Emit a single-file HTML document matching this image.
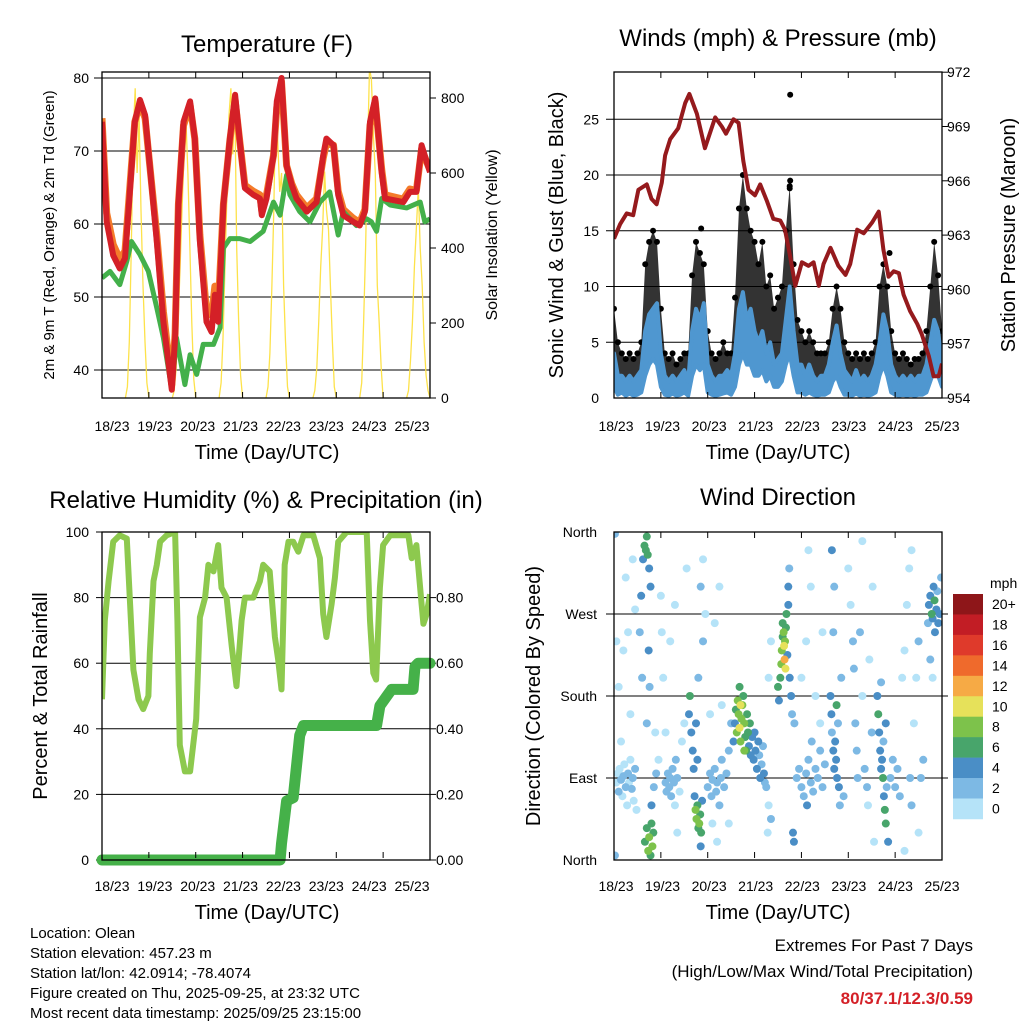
<!DOCTYPE html>
<html><head><meta charset="utf-8"><style>
html,body{margin:0;padding:0;background:#fff;}
svg{display:block;font-family:"Liberation Sans",sans-serif;}
</style></head><body>
<svg id="chart" width="1024" height="1024" viewBox="0 0 1024 1024">
<defs>
<clipPath id="c1"><rect x="102" y="72" width="328" height="326"/></clipPath>
<clipPath id="c2"><rect x="614" y="72" width="328" height="326"/></clipPath>
<clipPath id="c3"><rect x="102" y="532" width="328" height="328"/></clipPath>
<clipPath id="c4"><rect x="614" y="532" width="328" height="328"/></clipPath>
</defs>
<g font-size="24" text-anchor="middle">
<text x="267" y="52">Temperature (F)</text>
<text x="778" y="46">Winds (mph) &amp; Pressure (mb)</text>
<text x="266" y="508">Relative Humidity (%) &amp; Precipitation (in)</text>
<text x="778" y="505">Wind Direction</text>
</g>
<g font-size="20" text-anchor="middle">
<text x="267" y="459">Time (Day/UTC)</text>
<text x="778" y="459">Time (Day/UTC)</text>
<text x="267" y="919">Time (Day/UTC)</text>
<text x="778" y="919">Time (Day/UTC)</text>
<text transform="translate(54,235) rotate(-90)" font-size="15">2m &amp; 9m T (Red, Orange) &amp; 2m Td (Green)</text>
<text transform="translate(497,235) rotate(-90)" font-size="16">Solar Insolation (Yellow)</text>
<text transform="translate(563,235) rotate(-90)">Sonic Wind &amp; Gust (Blue, Black)</text>
<text transform="translate(1015,235) rotate(-90)">Station Pressure (Maroon)</text>
<text transform="translate(47,696) rotate(-90)">Percent &amp; Total Rainfall</text>
<text transform="translate(540,696) rotate(-90)">Direction (Colored By Speed)</text>
</g>
<g font-size="15">
<text x="30" y="938">Location: Olean</text>
<text x="30" y="958">Station elevation: 457.23 m</text>
<text x="30" y="978">Station lat/lon: 42.0914; -78.4074</text>
<text x="30" y="998">Figure created on Thu, 2025-09-25, at 23:32 UTC</text>
<text x="30" y="1018">Most recent data timestamp: 2025/09/25 23:15:00</text>
</g>
<g font-size="17" text-anchor="end">
<text x="973" y="951">Extremes For Past 7 Days</text>
<text x="973" y="977">(High/Low/Max Wind/Total Precipitation)</text>
<text x="973" y="1004" fill="#d42027" font-weight="bold">80/37.1/12.3/0.59</text>
</g>
<g id="plots"></g>
</svg>
<script>
const dayLabels=["18/23","19/23","20/23","21/23","22/23","23/23","24/23","25/23"];
const tempTicks=[40,50,60,70,80];
const solarTicks=[0,200,400,600,800];
const windTicks=[0,5,10,15,20,25];
const pressTicks=[954,957,960,963,966,969,972];
const rhTicks=[0,20,40,60,80,100];
const rainTicks=[0,0.2,0.4,0.6,0.8];
const dirTicks=[0,90,180,270,360];
const dirLabels=["North","East","South","West","North"];
const speedBins=["0","2","4","6","8","10","12","14","16","18","20+"];
const speedColors=["#b5e3f8","#7db9e4","#4a8ec6","#48a56b","#7dc24b","#e6e15a","#f6aa45","#ef6a2c","#df3a2b","#c21d25","#8e1619"];

const tempRed=[[0,74],[.1,60.3],[.24,55.7],[.38,53.9],[.49,55.3],[.6,64.9],[.7,74],[.81,77],[.92,74.9],[1.02,68],[1.17,57.6],[1.31,46.6],[1.49,37.3],[1.56,44.4],[1.63,62.7],[1.74,74],[1.88,76.8],[1.98,71.7],[2.09,57.6],[2.23,46.6],[2.34,45.2],[2.41,50.3],[2.48,46.6],[2.59,62.7],[2.73,71.7],[2.84,77.7],[2.94,71.3],[3.05,64.9],[3.23,64],[3.37,63.5],[3.41,61.2],[3.51,63.5],[3.66,69.4],[3.73,76.8],[3.83,80],[3.94,68],[4.05,65.3],[4.15,63.5],[4.37,61.7],[4.58,63],[4.72,69.4],[4.79,71.7],[4.94,70.8],[5.04,64],[5.15,61.2],[5.36,60.3],[5.5,59.8],[5.61,61.7],[5.72,74],[5.83,77.2],[5.97,67.1],[6.04,63.5],[6.43,63],[6.57,64.4],[6.71,64.4],[6.82,70.8],[6.93,68.5],[7,67.1]];
const tempOrange=[[0,74.5],[.1,61.5],[.24,57.2],[.38,55.2],[.49,56.3],[.6,65.5],[.7,74],[.81,76.5],[.92,74.5],[1.02,68],[1.17,58.5],[1.31,48],[1.49,38],[1.56,45],[1.63,62.7],[1.74,73.5],[1.88,76.3],[1.98,71.7],[2.09,58.5],[2.23,48],[2.34,47.5],[2.41,51.5],[2.48,48.5],[2.59,62.7],[2.73,71.5],[2.84,77],[2.94,71.3],[3.05,65.3],[3.23,64.5],[3.37,64],[3.41,61.8],[3.51,64],[3.66,69.4],[3.73,76],[3.83,79.5],[3.94,68],[4.05,65.5],[4.15,64],[4.37,62.2],[4.58,63.5],[4.72,69],[4.79,71],[4.94,70.8],[5.04,64.5],[5.15,62],[5.36,60.8],[5.5,60.2],[5.61,62],[5.72,73.5],[5.83,76.8],[5.97,67.5],[6.04,64],[6.43,63.4],[6.57,64.8],[6.71,64.6],[6.82,70.3],[6.93,68.5],[7,67.4]];
const tempDew=[[0,52.6],[.17,53.5],[.38,51.7],[.53,54.9],[.63,57.6],[.81,55.8],[.99,53.5],[1.17,48.5],[1.31,44.4],[1.49,37.3],[1.59,44.4],[1.77,38],[1.88,42.1],[2.02,39.4],[2.16,43.5],[2.38,43.5],[2.52,45.8],[2.59,56.7],[2.73,58],[2.94,58],[3.16,57.6],[3.44,59],[3.66,63],[3.8,61.2],[3.94,66.7],[4.01,64],[4.22,61.7],[4.44,60.3],[4.65,63],[4.86,64.4],[5.04,58.5],[5.15,61.7],[5.43,59.8],[5.65,60.7],[5.75,60.3],[5.86,59],[5.97,63.5],[6.15,62.6],[6.5,62.2],[6.79,63],[6.89,60.3],[7,60.7]];
const solarDay0=[0,30,150,400,700,826,600,750,500,300,150,40,0];
const solarDay1=[0,20,80,200,350,500,650,737,600,400,200,50,0];
const solarDay2=[0,40,160,350,550,750,826,650,800,400,200,60,0];
const solarDay3=[0,30,120,300,500,800,690,550,600,300,150,30,0];
const solarDay4=[0,20,80,200,350,450,604,500,450,300,150,30,0];
const solarDay5=[0,40,200,400,650,880,850,700,600,300,200,80,0];
const solarDay6=[0,20,100,200,350,450,560,400,300,150,60,20,0];

const windAvg=[4,2,2,1.5,2,1.5,2,2.5,6,7.5,8,8.5, 4,2,1.5,2,1.5,2,2.5,1.5,6,8,7,8.5, 3,2,1.5,2,2,2.5,2,4,8,9.5,7,8, 6,5,6,4,5,3,3.5,4,7,10,6,3, 3,2,3,2,1.5,2,2,3,5,6.5,4,2.5, 2,1.5,2.5,1.5,2,1.5,2,3,5,7.5,6,3, 2,1.5,2,1.5,2,1.5,2,2,3,5,7,6,3];
const windLow=[1,0.3,0.5,0.2,0.4,0.2,0.3,0.5,2,3,3.5,3, 1,0.3,0.2,0.4,0.2,0.3,0.5,0.2,2,3,2.5,3, 0.5,0.3,0.2,0.3,0.4,0.5,0.3,1,3,4,3,3, 2,2,2.5,1.5,2,1,1,1.5,3,4,2,0.5, 0.5,0.3,0.5,0.3,0.2,0.3,0.3,0.5,1.5,2,1,0.3, 0.3,0.2,0.4,0.2,0.3,0.2,0.3,0.5,2,3,2,0.5, 0.3,0.2,0.3,0.2,0.3,0.2,0.3,0.3,0.5,1.5,2.5,2,1];
const windGust=[8,5,4,3.5,4,3.5,4,5,12,14,15,14, 8,4,3.5,4,3,3.5,4,4,11,14,13,12, 6,4,3.5,4,5,4,4,9,17,20,17,15, 14,12,14,10,11,8,9,10,15,19,12,7, 6,5,6,5,4,4,4,5,8,10,8,5, 4,3.5,4,3.5,4,3.5,4,5,10,12,10,6, 4,3.5,4,3.5,3,3.5,3.5,4,6,10,14,11,6];
const gustOutliers=[[3.76,27.2],[3.76,19.5],[3.75,18.8],[1.86,15.2],[5.88,13]];
const pressure=[[0,962.8],[.13,963.6],[.27,964.2],[.41,964.1],[.52,965.5],[.7,965.8],[.8,965],[.91,964.7],[1.02,965.9],[1.09,967.4],[1.2,968.3],[1.37,968.9],[1.52,970.3],[1.61,970.8],[1.77,969.7],[1.94,967.8],[2.16,969.5],[2.3,969],[2.39,968.6],[2.55,969.4],[2.66,969.2],[2.76,967.1],[2.87,965.5],[3.01,965.2],[3.12,965.8],[3.26,964.9],[3.4,963.9],[3.55,963.8],[3.65,963.3],[3.76,961.8],[3.87,960.2],[4.01,961.5],[4.15,961.3],[4.26,961.5],[4.37,960.2],[4.47,961.4],[4.62,962.3],[4.79,961.3],[4.94,960.8],[5.04,961.4],[5.19,963.3],[5.33,963.1],[5.51,963.7],[5.65,964.3],[5.75,962.2],[5.86,960.7],[5.97,961],[6.08,960.9],[6.18,959.7],[6.32,958.8],[6.47,958.1],[6.57,957.5],[6.72,956.3],[6.82,955.2],[6.93,955.2],[7,955.9]];

const rh=[[0,49],[.06,73],[.14,85],[.24,97],[.38,99],[.53,98],[.6,78],[.67,58],[.78,49],[.88,46],[.99,50],[1.02,63],[1.1,85],[1.17,90],[1.24,97],[1.38,99],[1.56,100],[1.61,73],[1.66,35],[1.77,27],[1.88,27],[2.01,43],[2.09,74],[2.2,80],[2.27,90],[2.38,88],[2.48,96],[2.55,83],[2.66,80],[2.77,65],[2.87,53],[2.98,73],[3.05,80],[3.23,80],[3.37,85],[3.44,90],[3.58,88],[3.69,68],[3.76,61],[3.83,52],[3.9,90],[3.98,97],[4.08,97],[4.19,94],[4.3,99],[4.51,99],[4.65,92],[4.72,75],[4.79,68],[4.9,78],[4.97,86],[5.04,97],[5.22,100],[5.65,100],[5.72,73],[5.79,57],[5.85,55],[5.93,83],[6,96],[6.15,99],[6.54,99],[6.61,92],[6.71,96],[6.82,78],[6.86,72],[6.93,75],[7,81]];
const rain=[[0,0],[3.8,0],[3.83,0.05],[3.94,0.18],[4.08,0.19],[4.22,0.38],[4.3,0.41],[5.86,0.41],[5.93,0.47],[6.18,0.52],[6.64,0.52],[6.68,0.59],[6.75,0.6],[7,0.6]];

const dirPoints=[[0.02,5,3],[0.02,358,3],[0.05,85,1],[0.08,95,1],[0.1,75,2],[0.12,100,1],[0.15,88,2],[0.18,70,1],[0.2,92,2],[0.22,105,1],[0.25,80,2],[0.28,60,1],[0.3,95,2],[0.32,85,1],[0.35,110,1],[0.38,78,2],[0.4,90,3],[0.42,65,1],[0.45,100,2],[0.48,55,1],[0.1,190,1],[0.2,230,1],[0.25,310,1],[0.3,250,1],[0.05,240,1],[0.35,160,1],[0.4,330,1],[0.15,130,1],[0.45,275,1],
[0.55,250,3],[0.58,290,4],[0.6,200,2],[0.62,330,5],[0.65,345,7],[0.68,340,6],[0.7,355,7],[0.72,335,6],[0.75,320,5],[0.78,300,4],[0.66,20,7],[0.7,35,6],[0.73,10,8],[0.75,25,8],[0.78,5,7],[0.8,40,6],[0.82,15,8],[0.84,30,6],[0.8,60,4],[0.85,80,3],[0.76,190,3],[0.7,150,2],[0.74,230,4],[0.88,140,1],[0.9,95,2],[0.95,110,1],
[1.0,290,1],[1.02,250,1],[1.05,200,1],[1.1,85,2],[1.12,75,2],[1.15,95,3],[1.18,80,2],[1.2,90,3],[1.22,70,2],[1.25,100,2],[1.28,85,3],[1.3,60,1],[1.32,110,2],[1.35,90,2],[1.4,75,1],[1.45,130,1],[1.1,140,1],[1.2,240,1],[1.3,280,1],[1.35,30,1],[1.5,150,1],[1.55,320,1],
[1.6,160,4],[1.62,180,6],[1.65,140,4],[1.68,120,5],[1.7,100,4],[1.72,70,5],[1.74,55,8],[1.76,45,8],[1.78,60,7],[1.8,35,6],[1.82,40,8],[1.84,50,7],[1.86,30,6],[1.85,15,4],[1.88,65,5],[1.75,150,5],[1.78,110,5],[1.8,200,3],[1.85,300,3],[1.9,330,1],[1.9,240,3],[1.95,270,1],
[2.0,80,2],[2.05,95,3],[2.08,70,2],[2.1,88,3],[2.15,100,2],[2.18,75,3],[2.2,85,2],[2.25,60,2],[2.28,90,3],[2.3,110,2],[2.35,80,2],[2.4,95,3],[2.45,120,3],[2.5,150,3],[2.1,40,1],[2.2,20,1],[2.3,170,1],[2.15,260,1],[2.25,300,1],[2.05,160,1],[2.45,40,1],
[2.55,130,4],[2.58,150,5],[2.6,165,6],[2.62,140,8],[2.64,175,9],[2.66,160,8],[2.68,145,10],[2.7,130,8],[2.72,155,9],[2.74,170,8],[2.76,180,6],[2.78,150,8],[2.8,135,6],[2.82,120,7],[2.84,160,7],[2.86,140,6],[2.88,125,5],[2.9,150,7],[2.92,115,4],[2.95,135,5],[2.98,110,4],[2.68,190,7],[2.7,170,10],[2.78,120,9],
[3.0,140,4],[3.02,120,5],[3.05,100,4],[3.08,130,4],[3.1,115,3],[3.12,90,4],[3.15,105,3],[3.18,125,3],[3.2,95,4],[3.22,85,3],[3.25,80,2],[3.3,60,1],[3.35,45,2],[3.3,200,1],[3.35,240,1],[3.28,30,1],
[3.5,190,6],[3.52,175,5],[3.55,200,7],[3.57,215,8],[3.58,230,8],[3.6,245,7],[3.6,260,6],[3.62,250,8],[3.63,235,10],[3.64,220,12],[3.65,240,9],[3.66,210,10],[3.67,255,7],[3.68,270,6],[3.7,225,5],[3.72,280,4],[3.72,300,4],[3.74,320,3],[3.75,200,4],[3.78,180,4],[3.8,160,2],[3.82,30,4],[3.84,20,4],[3.85,150,3],
[3.9,90,3],[3.95,100,2],[4.0,80,3],[4.05,70,2],[4.1,95,3],[4.12,60,4],[4.15,110,2],[4.2,85,3],[4.22,130,2],[4.25,75,3],[4.3,100,2],[4.35,90,3],[4.4,120,2],[4.45,80,2],[4.5,105,2],[4.0,200,1],[4.1,240,1],[4.15,340,1],[4.2,300,1],[4.3,180,1],[4.4,150,1],[4.45,250,1],
[4.62,180,4],[4.64,160,4],[4.65,140,3],[4.68,120,5],[4.7,100,4],[4.72,130,4],[4.74,110,5],[4.76,90,4],[4.78,150,3],[4.8,80,4],[4.75,170,6],[4.82,60,3],[4.85,200,2],[4.7,300,2],[4.65,340,4],[4.68,250,3],[4.9,70,3],
[5.0,320,1],[5.05,280,1],[5.1,240,3],[5.12,210,2],[5.15,150,2],[5.18,120,3],[5.2,90,2],[5.25,250,2],[5.3,180,1],[5.35,100,3],[5.4,80,2],[5.42,60,1],[5.45,220,1],[5.5,140,2],[5.52,300,1],[5.55,20,1],[5.3,350,1],
[5.62,180,5],[5.64,160,6],[5.66,140,4],[5.68,120,4],[5.7,100,5],[5.72,110,4],[5.74,90,6],[5.76,70,5],[5.78,55,6],[5.8,40,6],[5.75,130,3],[5.8,150,4],[5.82,80,3],[5.85,20,4],[5.7,195,2],[5.9,90,3],[5.95,110,2],
[6.0,80,2],[6.05,100,3],[6.1,70,2],[6.15,200,1],[6.2,230,1],[6.25,280,1],[6.3,320,1],[6.32,90,2],[6.35,60,3],[6.4,150,1],[6.45,200,1],[6.5,240,2],[6.55,90,3],[6.6,110,3],[6.5,30,1],[6.35,340,1],[6.2,10,1],
[6.7,260,3],[6.72,280,4],[6.75,290,5],[6.78,270,6],[6.8,265,5],[6.82,300,4],[6.84,285,6],[6.85,250,4],[6.88,275,5],[6.9,295,3],[6.92,260,4],[6.95,270,5],[6.98,310,3],[6.75,220,2],[6.8,200,1]];

const NS="http://www.w3.org/2000/svg";
const root=document.getElementById("plots");
function mk(tag,attrs,parent){const e=document.createElementNS(NS,tag);for(const k in attrs)e.setAttribute(k,attrs[k]);(parent||root).appendChild(e);return e;}
function txt(s,x,y,anchor,size,parent){const e=mk("text",{x:x,y:y,"text-anchor":anchor,"font-size":size},parent);e.textContent=s;return e;}
const X1=t=>102+t*46.857, X2=t=>614+t*46.857;
const YT=v=>370-(v-40)*7.3, YS=s=>398-s*0.375;
const YW=w=>398-w*11.15, YP=p=>398-(p-954)*18.1;
const YR=r=>860-r*3.28, YRain=p=>860-p*328;
const YD=d=>860-d*0.9111;
function pathOf(pts,fx,fy){return pts.map((p,i)=>(i?"L":"M")+fx(p[0]).toFixed(1)+","+fy(p[1]).toFixed(1)).join("");}

function frame(x0,y0,name,labelX0,labelStep){
  const g=mk("g",{});
  
  
  for(let i=0;i<8;i++){
    const x=x0+i*46.857;
    mk("line",{x1:x,x2:x,y1:y0,y2:y0+6,stroke:"#000","stroke-width":1},g);
    mk("line",{x1:x,x2:x,y1:y0+326,y2:y0+320,stroke:"#000","stroke-width":1},g);
    const l=txt(dayLabels[i],labelX0+i*labelStep,y0+359,"middle",14,g);
    
    
  }
}

// ---------- Panel 1: temperature ----------
(function(){
  const g=mk("g",{});
  
  
  tempTicks.forEach(v=>{
    mk("line",{x1:94,x2:430,y1:YT(v),y2:YT(v),stroke:"#000","stroke-width":1},g);
    const l=txt(String(v),89,YT(v)+5,"end",14,g);
    
    
  });
  solarTicks.forEach(s=>{
    mk("line",{x1:430,x2:436,y1:YS(s),y2:YS(s),stroke:"#000"},g);
    const l=txt(String(s),441,YS(s)+5,"start",14,g);
    
    
  });
  const c=mk("g",{"clip-path":"url(#c1)"},g);
  const days=[solarDay0,solarDay1,solarDay2,solarDay3,solarDay4,solarDay5,solarDay6];
  days.forEach((arr,d)=>{
    const pts=arr.map((s,h)=>[d+0.5+h/24,s]);
    const p=mk("path",{d:pathOf(pts,X1,YS),fill:"none",stroke:"#fde24a","stroke-width":1.3},c);
    
    
  });
  const po=mk("path",{d:pathOf(tempOrange,X1,YT),fill:"none",stroke:"#f47b2a","stroke-width":7,"stroke-linejoin":"round"},c);
  
  
  const pg=mk("path",{d:pathOf(tempDew,X1,YT),fill:"none",stroke:"#43b04a","stroke-width":5,"stroke-linejoin":"round"},c);
  
  
  const pr=mk("path",{d:pathOf(tempRed,X1,YT),fill:"none",stroke:"#d42027","stroke-width":6,"stroke-linejoin":"round"},c);
  
  
  mk("rect",{x:102,y:72,width:328,height:326,fill:"none",stroke:"#000","stroke-width":1.3},g);
  frame(102,72,"temperature",112,42.86);
})();

// ---------- Panel 2: winds & pressure ----------
(function(){
  const g=mk("g",{});
  
  
  windTicks.forEach(w=>{
    if(w>0) mk("line",{x1:606,x2:942,y1:YW(w),y2:YW(w),stroke:"#000","stroke-width":1},g);
    const l=txt(String(w),599,YW(w)+5,"end",14,g);
    
    
  });
  pressTicks.forEach(p=>{
    mk("line",{x1:942,x2:948,y1:YP(p),y2:YP(p),stroke:"#000"},g);
    const l=txt(String(p),947,YP(p)+5,"start",14,g);
    
    
  });
  const c=mk("g",{"clip-path":"url(#c2)"},g);
  const tw=i=>i/12;
  let d="";
  windGust.forEach((v,i)=>{d+=(i?"L":"M")+X2(tw(i)).toFixed(1)+","+YW(v).toFixed(1);});
  for(let i=windAvg.length-1;i>=0;i--) d+="L"+X2(tw(i)).toFixed(1)+","+YW(windAvg[i]).toFixed(1);
  const gb=mk("path",{d:d+"Z",fill:"#000","fill-opacity":0.8},c);
  
  
  windGust.forEach((v,i)=>{
    const dot=mk("circle",{cx:X2(tw(i)),cy:YW(v),r:3,fill:"#000"},c);
    
    
  });
  gustOutliers.forEach(p=>{
    const dot=mk("circle",{cx:X2(p[0]),cy:YW(p[1]),r:3,fill:"#000"},c);
    
    
  });
  let b="";
  windAvg.forEach((v,i)=>{b+=(i?"L":"M")+X2(tw(i)).toFixed(1)+","+YW(v).toFixed(1);});
  for(let i=windLow.length-1;i>=0;i--) b+="L"+X2(tw(i)).toFixed(1)+","+YW(windLow[i]).toFixed(1);
  const wb=mk("path",{d:b+"Z",fill:"#4f97d0",stroke:"#4f97d0","stroke-width":4,"stroke-linejoin":"round"},c);
  
  
  const pp=mk("path",{d:pathOf(pressure,X2,YP),fill:"none",stroke:"#951a1d","stroke-width":4,"stroke-linejoin":"round"},c);
  
  
  mk("rect",{x:614,y:72,width:328,height:326,fill:"none",stroke:"#000","stroke-width":1.3},g);
  frame(614,72,"winds",616,46.57);
})();

// ---------- Panel 3: RH & precip ----------
(function(){
  const g=mk("g",{});
  
  
  rhTicks.forEach(r=>{
    if(r>0&&r<100) mk("line",{x1:102,x2:430,y1:YR(r),y2:YR(r),stroke:"#000","stroke-width":1},g);
    mk("line",{x1:96,x2:102,y1:YR(r),y2:YR(r),stroke:"#000"},g);
    const l=txt(String(r),89,YR(r)+5,"end",14,g);
    
    
  });
  rainTicks.forEach(p=>{
    mk("line",{x1:430,x2:436,y1:YRain(p),y2:YRain(p),stroke:"#000"},g);
    const l=txt(p.toFixed(2),436,YRain(p)+5,"start",14,g);
    
    
  });
  const c=mk("g",{"clip-path":"url(#c3)"},g);
  const pr=mk("path",{d:pathOf(rh,X1,YR),fill:"none",stroke:"#8dc94e","stroke-width":6,"stroke-linejoin":"round"},c);
  
  
  const pn=mk("path",{d:pathOf(rain,X1,YRain),fill:"none",stroke:"#45b149","stroke-width":11,"stroke-linejoin":"round","stroke-linecap":"round"},g);
  
  
  mk("rect",{x:102,y:532,width:328,height:328,fill:"none",stroke:"#000","stroke-width":1.3},g);
  frame(102,532,"humidity",112,42.86);
})();

// ---------- Panel 4: wind direction ----------
(function(){
  const g=mk("g",{});
  
  
  dirTicks.forEach((d,i)=>{
    if(d>0&&d<360) mk("line",{x1:606,x2:948,y1:YD(d),y2:YD(d),stroke:"#000","stroke-width":1},g);
    const l=txt(dirLabels[i],597,YD(d)+5,"end",14,g);
    
    
  });
  const c=mk("g",{"clip-path":"url(#c4)"},g);
  const order=dirPoints.slice().sort((a,b)=>a[2]-b[2]);
  order.forEach(p=>{
    const idx=Math.min(10,Math.floor(p[2]/2));
    const dot=mk("circle",{cx:X2(p[0]),cy:YD(p[1]),r:4,fill:speedColors[idx]},c);
    
    
  });
  mk("rect",{x:614,y:532,width:328,height:328,fill:"none",stroke:"#000","stroke-width":1.3},g);
  frame(614,532,"wind-direction",616,46.57);
  const lg=mk("g",{});
  
  
  const ut=txt("mph",990,588,"start",14,lg);
  
  
  const h=20.45;
  for(let i=0;i<11;i++){
    const k=10-i;
    const r=mk("rect",{x:953,y:594+i*h,width:30,height:h+0.3,fill:speedColors[k]},lg);
    
    
    const l=txt(speedBins[k],992,594+i*h+15,"start",14,lg);
    
    
  }
})();
</script>
</body></html>
